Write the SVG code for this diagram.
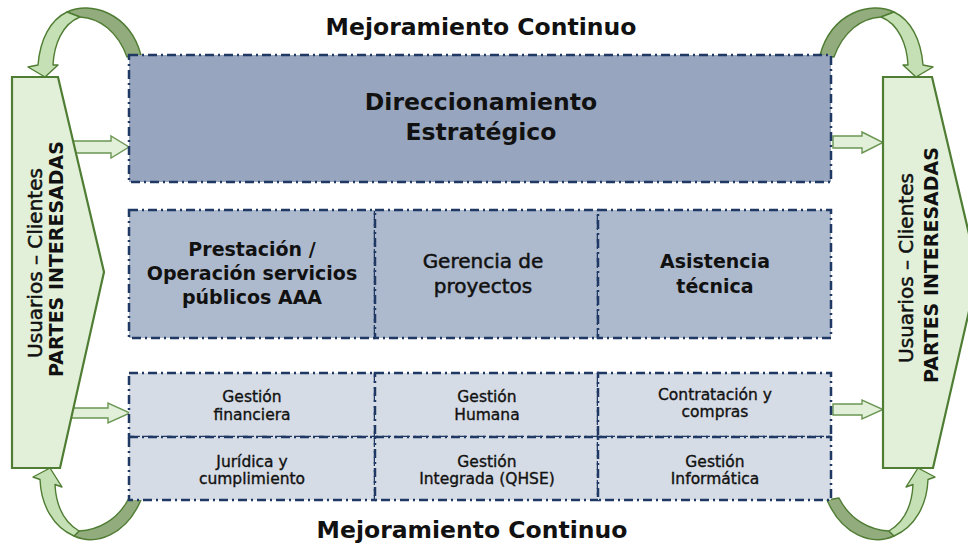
<svg xmlns="http://www.w3.org/2000/svg" width="968" height="544" viewBox="0 0 968 544">
<style>
.cell{stroke:#1f3864;stroke-width:2.5;stroke-dasharray:9 4 2 4;}
.c1{fill:#97a6be;}
.c2{fill:#adb9cc;}
.c3{fill:#d6dce5;}
.chev{fill:#e2f0d9;stroke:#4f7d33;stroke-width:2.2;}
.barr{fill:#e2f0d9;stroke:#6b9653;stroke-width:1.4;}
.lt{fill:#c5e0b4;stroke:#4f7d33;stroke-width:1.4;stroke-linejoin:round;}
.dk{fill:#93ac7d;stroke:#4f7d33;stroke-width:1.4;stroke-linejoin:round;}
text{font-family:"DejaVu Sans","Liberation Sans",sans-serif;fill:#111;text-anchor:middle;}
.title{font-size:23.5px;font-weight:bold;}
.mid{font-size:19px;font-weight:bold;}
.midr{font-size:20px;stroke:#111;stroke-width:0.5;}
.sm{font-size:15.5px;stroke:#111;stroke-width:0.35;}
.vr{font-size:20px;stroke:#111;stroke-width:0.5;}
.vb{font-size:19px;font-weight:bold;}
</style>
<rect width="968" height="544" fill="#fff"/>
<g id="connectors">
<path class="barr" d="M64,141 L111,141 L111,136 L129,147 L111,158 L111,153 L64,153 Z"/>
<path class="barr" d="M62,408 L108,408 L108,403 L130,413 L108,423 L108,418 L62,418 Z"/>
<path class="barr" d="M833,136 L862,136 L862,132 L883,142.5 L862,153 L862,148 L833,148 Z"/>
<path class="barr" d="M833,404 L862,404 L862,400 L883,409.5 L862,419 L862,415 L833,415 Z"/>
<g id="loop-top-left">
<path class="dk" d="M67,12 C90,1 129,12 141,55 L127,57 C118,32 100,18 80,17 Z"/>
<path class="lt" d="M67,12 C50,20 40,40 38,65 L28,67 L45,77 L58,65 L53,65 C54,45 62,24 80,17 Z"/>
</g>
<g id="loop-top-right" transform="translate(961,0) scale(-1,1)">
<path class="dk" d="M67,12 C90,1 129,12 141,55 L127,57 C118,32 100,18 80,17 Z"/>
<path class="lt" d="M67,12 C50,20 40,40 38,65 L28,67 L45,77 L58,65 L53,65 C54,45 62,24 80,17 Z"/>
</g>
<g id="loop-bottom-left">
<path class="dk" d="M74,536 C96,546 126,535 141,500 L129,498 C118,520 98,530 79,531 Z"/>
<path class="lt" d="M40,479.5 C41,505 53,527 74,536 L79,531 C64,522 56,505 55,484.5 L62,487 L50,468 L33,477 Z"/>
</g>
<g id="loop-bottom-right" transform="translate(968,0) scale(-1,1)">
<path class="dk" d="M74,536 C96,546 126,535 141,500 L129,498 C118,520 98,530 79,531 Z"/>
<path class="lt" d="M40,479.5 C41,505 53,527 74,536 L79,531 C64,522 56,505 55,484.5 L62,487 L50,468 L33,477 Z"/>
</g>
</g>
<g id="stakeholders-left">
<polygon class="chev" points="12,77 58,77 104,272 60,468 12,468"/>
<text class="vr" transform="translate(42,263) rotate(-90)">Usuarios – Clientes</text>
<text class="vb" transform="translate(63,259) rotate(-90)">PARTES INTERESADAS</text>
</g>
<g id="stakeholders-right">
<polygon class="chev" points="883,77 932,77 978,272 933,468 883,468"/>
<text class="vr" transform="translate(913,268) rotate(-90)">Usuarios – Clientes</text>
<text class="vb" transform="translate(938,265) rotate(-90)">PARTES INTERESADAS</text>
</g>
<g id="mejora-top"><text class="title" x="481" y="35">Mejoramiento Continuo</text></g>
<g id="mejora-bottom"><text class="title" x="472" y="538">Mejoramiento Continuo</text></g>
<g id="direccionamiento">
<rect class="cell c1" x="129" y="55" width="702" height="127"/>
<text class="title" x="481" y="110">Direccionamiento</text>
<text class="title" x="481" y="140">Estratégico</text>
</g>
<g id="prestacion">
<rect class="cell c2" x="129" y="210" width="246" height="128"/>
<text class="mid" x="252" y="256">Prestación /</text>
<text class="mid" x="252" y="280">Operación servicios</text>
<text class="mid" x="252" y="304">públicos AAA</text>
</g>
<g id="gerencia">
<rect class="cell c2" x="375" y="210" width="223" height="128"/>
<text class="midr" x="483" y="268">Gerencia de</text>
<text class="midr" x="483" y="293">proyectos</text>
</g>
<g id="asistencia">
<rect class="cell c2" x="598" y="210" width="233" height="128"/>
<text class="mid" x="715" y="268">Asistencia</text>
<text class="mid" x="715" y="293">técnica</text>
</g>
<g id="financiera">
<rect class="cell c3" x="129" y="373" width="246" height="64"/>
<text class="sm" x="252" y="402">Gestión</text>
<text class="sm" x="252" y="420">financiera</text>
</g>
<g id="humana">
<rect class="cell c3" x="375" y="373" width="223" height="64"/>
<text class="sm" x="487" y="402">Gestión</text>
<text class="sm" x="487" y="420">Humana</text>
</g>
<g id="contratacion">
<rect class="cell c3" x="598" y="373" width="233" height="64"/>
<text class="sm" x="715" y="400">Contratación y</text>
<text class="sm" x="715" y="417">compras</text>
</g>
<g id="juridica">
<rect class="cell c3" x="129" y="437" width="246" height="63"/>
<text class="sm" x="252" y="467">Jurídica y</text>
<text class="sm" x="252" y="484">cumplimiento</text>
</g>
<g id="integrada">
<rect class="cell c3" x="375" y="437" width="223" height="63"/>
<text class="sm" x="487" y="467">Gestión</text>
<text class="sm" x="487" y="484">Integrada (QHSE)</text>
</g>
<g id="informatica">
<rect class="cell c3" x="598" y="437" width="233" height="63"/>
<text class="sm" x="715" y="467">Gestión</text>
<text class="sm" x="715" y="484">Informática</text>
</g>
</svg>
